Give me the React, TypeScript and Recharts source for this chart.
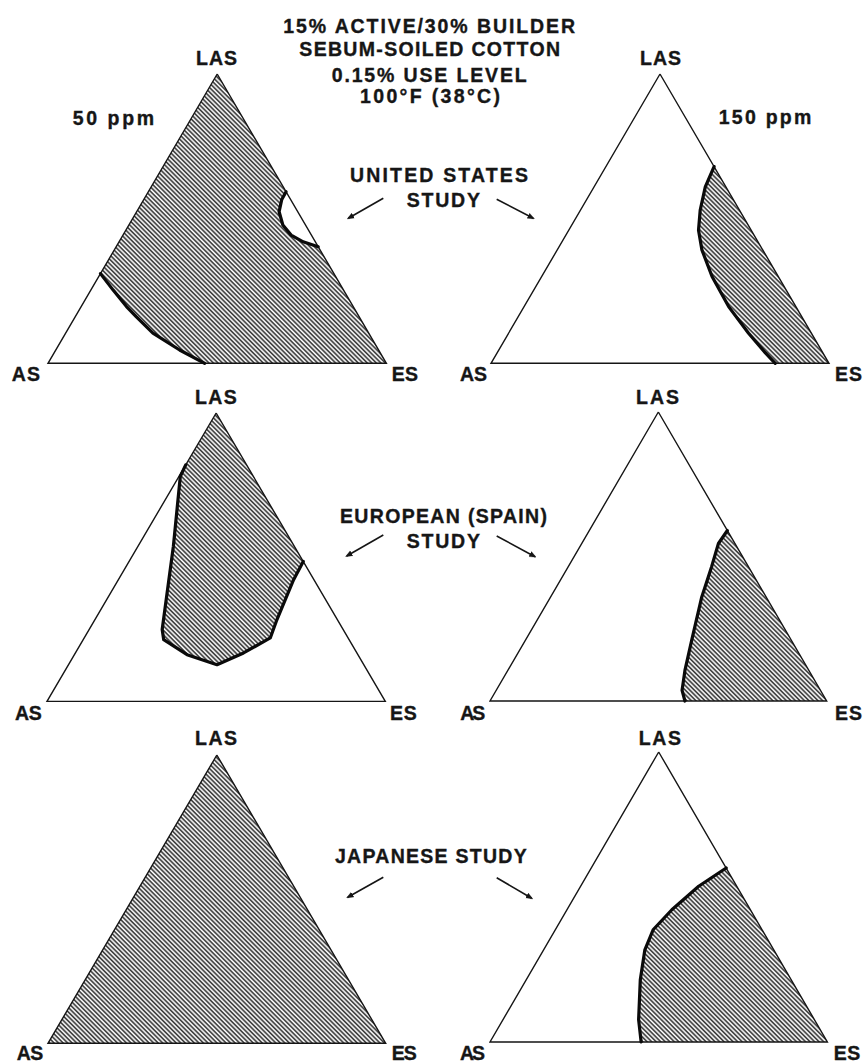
import React from 'react';
import { ScatterChart, Scatter, XAxis, YAxis } from 'recharts';

// ternary points as [LAS %, ES %]; AS is whatever is left
type Comp = [number, number];

const LAS: Comp = [100, 0];
const AS: Comp = [0, 0];
const ES: Comp = [0, 100];
const OUTLINE: Comp[] = [LAS, AS, ES, LAS];

// United States study
const US50_LOWER: Comp[] = [[31, 0], [25.3, 6.6], [19.6, 13.4], [16.1, 18], [10.4, 25.8], [4.6, 36.6], [0, 46.3]];
const US50_NOTCH: Comp[] = [[59.3, 40.7], [56.5, 40.8], [52.4, 42.1], [47.8, 45.5], [44.3, 49.7], [42, 54.4], [40.3, 59.7]];
const US150_EDGE: Comp[] = [[68, 32], [61, 32.9], [53, 35.4], [46, 38.4], [39.2, 42.8], [30, 50.4], [19.6, 60.5], [10.4, 71], [3.5, 79.5], [0, 84.1]];

// European (Spain) study
const EU50_EDGE: Comp[] = [[82, 0], [78, 0.4], [53.7, 10.5], [24.9, 21.6], [21.4, 23.8], [16.2, 33.3], [12.7, 43.9], [16.8, 49.7], [22, 55], [28.3, 53.8], [42.2, 51.8], [48.5, 51.5]];
const EU150_EDGE: Comp[] = [[59, 41], [54.5, 40.6], [46.4, 42.6], [36, 44.9], [21, 49.4], [10.6, 52.6], [3.7, 55.2], [0, 57.9]];

// Japanese study
const JP150_EDGE: Comp[] = [[60, 40], [53.7, 35], [45.6, 31.1], [38.7, 29], [31.8, 30], [21.5, 33.8], [7.7, 40.2], [0, 44.8]];

const US50_FILL: Comp[] = [LAS, ...US50_NOTCH, ES, ...[...US50_LOWER].reverse()];
const US150_FILL: Comp[] = [...US150_EDGE, ES];
const EU50_FILL: Comp[] = [...EU50_EDGE, LAS];
const EU150_FILL: Comp[] = [...EU150_EDGE, ES];
const JP50_FILL: Comp[] = [LAS, AS, ES];
const JP150_FILL: Comp[] = [...JP150_EDGE, ES];

const toXY = (c: Comp) => ({ x: (c[1] + c[0] / 2) / 100, y: c[0] / 100 });

const noDot = () => <g />;

const PAD = 4;

function Ternary({ left, baseY, width, apexY, fill, borders }: {
  left: number; baseY: number; width: number; apexY: number; fill: Comp[]; borders: Comp[][];
}) {
  const height = baseY - apexY;
  return (
    <div style={{ position: 'absolute', left: left - PAD, top: apexY - PAD }}>
      <ScatterChart width={width + 2 * PAD} height={height + 2 * PAD} margin={{ top: PAD, right: PAD, bottom: PAD, left: PAD }}>
        <XAxis type="number" dataKey="x" domain={[0, 1]} hide />
        <YAxis type="number" dataKey="y" domain={[0, 1]} hide />
        <Scatter data={fill.map(toXY)} line={{ stroke: 'none', fill: 'url(#hatch)' }} shape={noDot} isAnimationActive={false} />
        <Scatter data={OUTLINE.map(toXY)} line={{ stroke: '#151515', strokeWidth: 1.4, fill: 'none', strokeLinejoin: 'miter' }} shape={noDot} isAnimationActive={false} />
        {borders.map((b, i) => (
          <Scatter key={i} data={b.map(toXY)} line={{ stroke: '#0a0a0a', strokeWidth: 3.2, fill: 'none', strokeLinejoin: 'round', strokeLinecap: 'round' }} shape={noDot} isAnimationActive={false} />
        ))}
      </ScatterChart>
    </div>
  );
}

function T({ x1, x2, y, children, size = 19.5 }: { x1: number; x2: number; y: number; children: React.ReactNode; size?: number }) {
  return (
    <text x={x1} y={y} textLength={x2 - x1} lengthAdjust="spacing" fontSize={size}>{children}</text>
  );
}

function Arrow({ x1, y1, x2, y2 }: { x1: number; y1: number; x2: number; y2: number }) {
  return <line x1={x1} y1={y1} x2={x2} y2={y2} stroke="#151515" strokeWidth={1.6} markerEnd="url(#ah)" />;
}

export default function App() {
  return (
    <div style={{ position: 'absolute', left: 0, top: 0, width: 864, height: 1062, background: '#fff', overflow: 'hidden' }}>
      <svg width={0} height={0} style={{ position: 'absolute' }}>
        <defs>
          <pattern id="hatch" patternUnits="userSpaceOnUse" width={3.2} height={3.2} patternTransform="rotate(45)">
            <rect width={3.2} height={3.2} fill="#fff" />
            <line x1={0} y1={1} x2={3.2} y2={1} stroke="#333" strokeWidth={1.6} />
          </pattern>
        </defs>
      </svg>

      <Ternary left={48.3} baseY={363.3} width={338.4} apexY={74} fill={US50_FILL} borders={[US50_LOWER, US50_NOTCH]} />
      <Ternary left={491} baseY={363.3} width={338} apexY={74} fill={US150_FILL} borders={[US150_EDGE]} />
      <Ternary left={46.7} baseY={701.7} width={338.3} apexY={413.3} fill={EU50_FILL} borders={[EU50_EDGE]} />
      <Ternary left={490.3} baseY={700.7} width={336.7} apexY={411.7} fill={EU150_FILL} borders={[EU150_EDGE]} />
      <Ternary left={48.3} baseY={1043.3} width={337.7} apexY={755} fill={JP50_FILL} borders={[]} />
      <Ternary left={490.3} baseY={1042.3} width={337.4} apexY={752.3} fill={JP150_FILL} borders={[JP150_EDGE]} />

      <svg width={864} height={1062} style={{ position: 'absolute', left: 0, top: 0, pointerEvents: 'none' }}
        fontFamily="'Liberation Sans', Arial, Helvetica, sans-serif" fontWeight="bold" fill="#161616"
        stroke="#161616" strokeWidth={0.35}>
        <defs>
          <marker id="ah" viewBox="0 0 10 10" refX={8} refY={5} markerWidth={7} markerHeight={7} markerUnits="userSpaceOnUse" orient="auto">
            <path d="M0,1 L10,5 L0,9 z" fill="#151515" />
          </marker>
        </defs>

        <T x1={283.3} x2={575} y={32.7}>15% ACTIVE/30% BUILDER</T>
        <T x1={299.3} x2={560} y={56}>SEBUM-SOILED COTTON</T>
        <T x1={331.7} x2={526.7} y={81.5}>0.15% USE LEVEL</T>
        <T x1={360} x2={500} y={103}>100°F (38°C)</T>

        <T x1={72.7} x2={154} y={125}>50 ppm</T>
        <T x1={718.7} x2={811.3} y={123.5}>150 ppm</T>

        <T x1={196} x2={237} y={65}>LAS</T>
        <T x1={640} x2={681} y={65}>LAS</T>
        <T x1={195} x2={236.7} y={404}>LAS</T>
        <T x1={636} x2={679} y={404}>LAS</T>
        <T x1={195} x2={237} y={745}>LAS</T>
        <T x1={638.7} x2={681} y={745}>LAS</T>

        <T x1={11.7} x2={40} y={380.5}>AS</T>
        <T x1={460} x2={487} y={380.5}>AS</T>
        <T x1={15} x2={41.7} y={719.5}>AS</T>
        <T x1={460.3} x2={485.3} y={719.5}>AS</T>
        <T x1={16.7} x2={43.3} y={1059.5}>AS</T>
        <T x1={460} x2={485} y={1059.5}>AS</T>

        <T x1={391.7} x2={418} y={380.5}>ES</T>
        <T x1={835} x2={862} y={380.5}>ES</T>
        <T x1={390} x2={416.7} y={719.5}>ES</T>
        <T x1={835} x2={862} y={719.5}>ES</T>
        <T x1={391.7} x2={416.7} y={1059.5}>ES</T>
        <T x1={833.7} x2={860.3} y={1059.5}>ES</T>

        <T x1={350} x2={528} y={181.7}>UNITED STATES</T>
        <T x1={406.7} x2={480} y={206.7}>STUDY</T>
        <T x1={340} x2={547} y={523.3}>EUROPEAN (SPAIN)</T>
        <T x1={406.7} x2={480} y={548.3}>STUDY</T>
        <T x1={335} x2={526.7} y={863.3}>JAPANESE STUDY</T>

        <Arrow x1={383.3} y1={198.3} x2={348.3} y2={218.3} />
        <Arrow x1={496.7} y1={199.3} x2={533.3} y2={218.3} />
        <Arrow x1={383.3} y1={535} x2={346.7} y2={556} />
        <Arrow x1={496.7} y1={536} x2={535} y2={556.7} />
        <Arrow x1={383.3} y1={877.3} x2={347.7} y2={897.3} />
        <Arrow x1={496.7} y1={877.7} x2={531.7} y2={898.3} />
      </svg>
    </div>
  );
}
